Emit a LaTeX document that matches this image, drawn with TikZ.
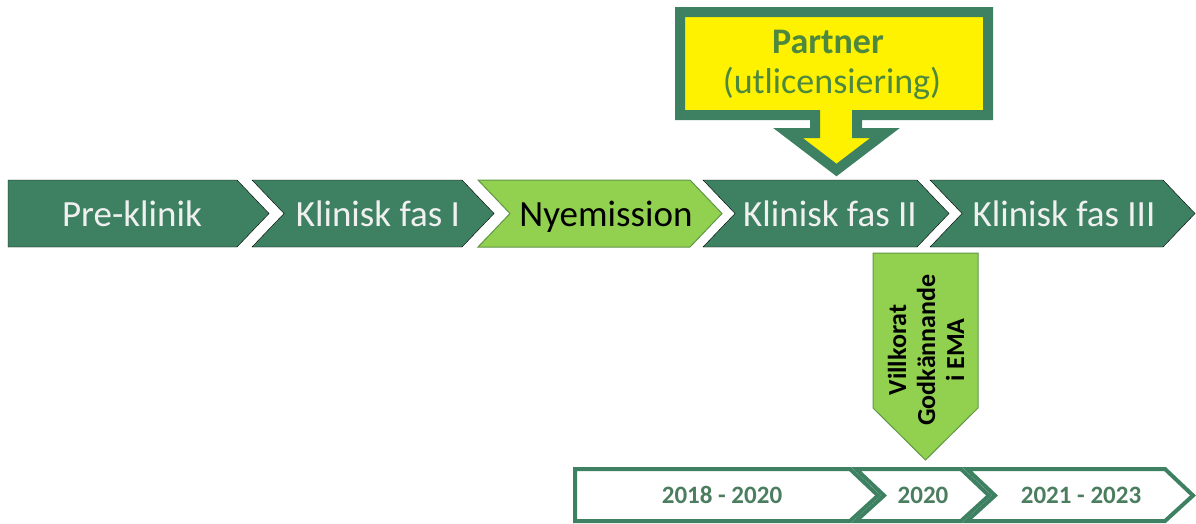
\documentclass[tikz,border=0pt]{standalone}
\usepackage{fontspec}
\setmainfont{Carlito}
\usepackage{tikz}
\usepackage{xcolor}
\definecolor{darkgreen}{RGB}{62,129,98}
\definecolor{lightgreen}{RGB}{146,208,80}
\definecolor{edgegreen}{RGB}{96,150,70}
\definecolor{textgreen}{RGB}{78,136,62}
\definecolor{yeargreen}{RGB}{75,125,95}

\begin{document}
\begin{tikzpicture}[x=1pt,y=-1pt,
		phase/.style = {fill=darkgreen},
		new phase/.style = {fill=lightgreen,draw=edgegreen,line width=1pt},
		phase label/.style = {anchor=base,inner sep=0pt,text=white!94!black,font=\fontsize{37}{44}\selectfont},
		callout/.style = {fill=yellow,draw=darkgreen,line width=10pt,miter limit=10},
		year/.style = {fill=white,draw=darkgreen,line width=4pt},
		year label/.style = {anchor=base,inner sep=0pt,text=yeargreen,font=\bfseries\fontsize{25}{30}\selectfont}]
			\useasboundingbox (0,0) rectangle (1196,523);
			% phases
			\draw[phase] (8,180) -- (237,180) -- (269,213.5) -- (237,247) -- (8,247) -- cycle;
			\draw[phase] (252,180) -- (462,180) -- (494,213.5) -- (462,247) -- (252,247) -- (284,213.5) -- cycle;
			\draw[new phase] (478,180) -- (690,180) -- (722,213.5) -- (690,247) -- (478,247) -- (510,213.5) -- cycle;
			\draw[phase] (703,180) -- (917,180) -- (949,213.5) -- (917,247) -- (703,247) -- (735,213.5) -- cycle;
			\draw[phase] (930,180) -- (1163,180) -- (1195,213.5) -- (1163,247) -- (930,247) -- (962,213.5) -- cycle;
			\node[phase label] at (132,226) (pre) {Pre-klinik};
			\node[phase label] at (378,226) (fas1) {Klinisk fas I};
			\node[phase label,text=black] at (606,226) (nyem) {Nyemission};
			\node[phase label] at (830,226) (fas2) {Klinisk fas II};
			\node[phase label] at (1064,226) (fas3) {Klinisk fas III};
			% partner callout
			\draw[callout] (680,12) -- (988,12) -- (988,115) -- (857,115) -- (857,133) -- (885,133)
				-- (836.5,170) -- (788,133) -- (815,133) -- (815,115) -- (680,115) -- cycle;
			\node[anchor=base,text=textgreen,font=\bfseries\fontsize{36}{43}\selectfont] at (828,53) (partner) {Partner};
			\node[anchor=base,text=textgreen,font=\fontsize{36}{43}\selectfont] at (832,93) (licens) {(utlicensiering)};
			% EMA marker
			\draw[new phase] (873,253) -- (978,253) -- (978,408) -- (925.5,460) -- (873,408) -- cycle;
			\node[rotate=90,align=center,font=\bfseries\fontsize{26}{29}\selectfont] at (926,350) (ema) {Villkorat\\Godkännande\\i EMA};
			% years
			\draw[year] (575,469) -- (850,469) -- (878,495.5) -- (850,521) -- (575,521) -- cycle;
			\draw[year] (856,469) -- (961,469) -- (989,495.5) -- (961,521) -- (856,521) -- (884,495.5) -- cycle;
			\draw[year] (967,469) -- (1165,469) -- (1193,495.5) -- (1165,521) -- (967,521) -- (995,495.5) -- cycle;
			\node[year label] at (722,503) (y1) {2018 - 2020};
			\node[year label] at (923,503) (y2) {2020};
			\node[year label] at (1081,503) (y3) {2021 - 2023};
		\end{tikzpicture}
\end{document}
